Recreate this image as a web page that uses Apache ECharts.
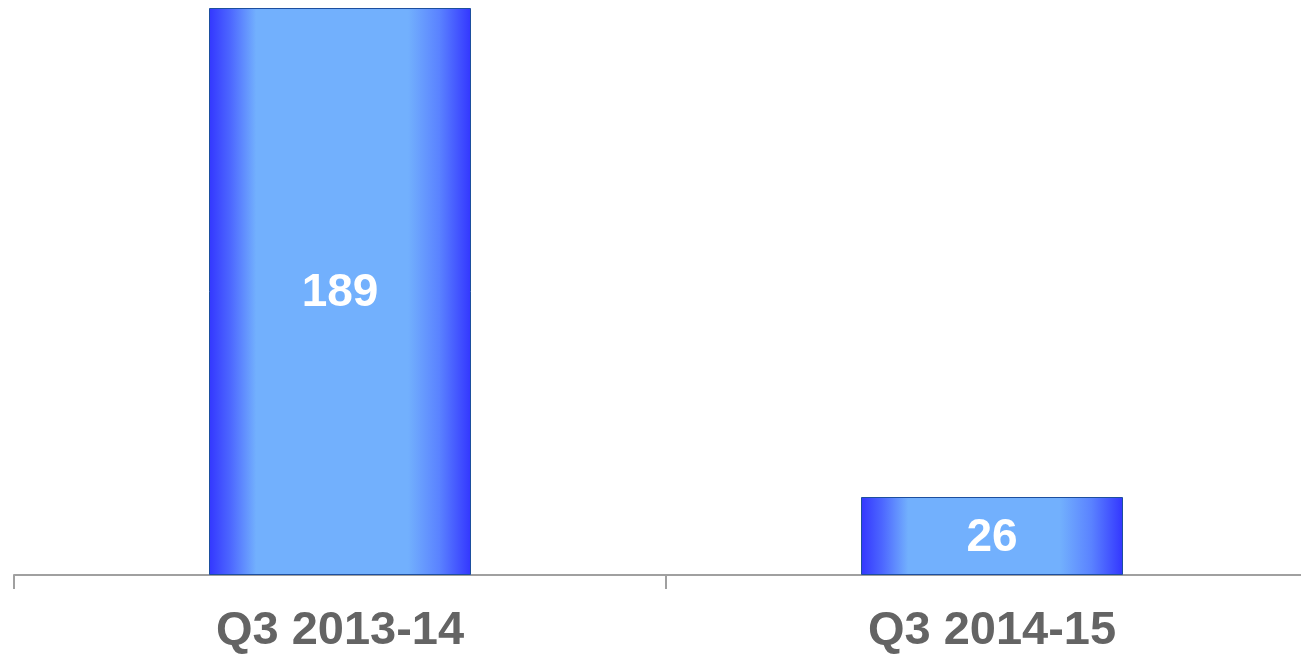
<!DOCTYPE html>
<html>
<head>
<meta charset="utf-8">
<script src="https://cdn.jsdelivr.net/npm/echarts@6/dist/echarts.min.js"></script>
<style>
html,body{margin:0;padding:0;background:#fff;}
#chart{width:1301px;height:654px;}
</style>
</head>
<body>
<div id="chart"></div>
<script>
const categories = ['Q3 2013-14', 'Q3 2014-15'];
const values = [189, 26];

const chart = echarts.init(document.getElementById('chart'), null, {renderer: 'canvas'});
const barGradient = new echarts.graphic.LinearGradient(0, 0, 1, 0, [
  {offset: 0, color: '#3336ff'},
  {offset: 0.08, color: '#4c66ff'},
  {offset: 0.18, color: '#72b0fd'},
  {offset: 0.76, color: '#72b0fd'},
  {offset: 0.88, color: '#5a82ff'},
  {offset: 1, color: '#3336ff'}
]);
chart.setOption({
  animation: false,
  grid: {left: 14, right: -17, top: 8, bottom: 79, containLabel: false, outerBoundsMode: 'none'},
  xAxis: {
    type: 'category',
    data: categories,
    axisLine: {show: true, lineStyle: {color: '#a0a0a0', width: 2}},
    axisTick: {show: true, alignWithLabel: false, length: 14, lineStyle: {color: '#a0a0a0', width: 2}},
    axisLabel: {
      color: '#646464',
      fontFamily: 'Liberation Sans, Arial, sans-serif',
      fontWeight: 'bold',
      fontSize: 47,
      margin: 33
    }
  },
  yAxis: {
    type: 'value',
    min: 0,
    max: 189,
    show: false,
    splitLine: {show: false}
  },
  series: [{
    type: 'bar',
    data: values,
    barWidth: 262,
    itemStyle: {
      color: barGradient,
      borderColor: '#1d4f9e',
      borderWidth: 1
    },
    label: {
      show: true,
      position: 'inside',
      offset: [0, 2],
      color: '#ffffff',
      fontFamily: 'Liberation Sans, Arial, sans-serif',
      fontWeight: 'bold',
      fontSize: 46
    }
  }]
});
</script>
</body>
</html>
